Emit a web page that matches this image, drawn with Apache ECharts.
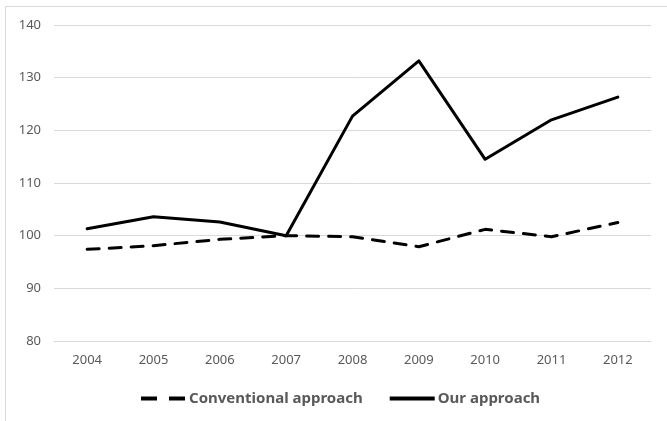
<!DOCTYPE html>
<html>
<head>
<meta charset="utf-8">
<script src="https://cdn.jsdelivr.net/npm/echarts@6/dist/echarts.min.js"></script>
<style>html,body{margin:0;padding:0;background:#fff}#c{width:667px;height:421px}</style>
</head>
<body>
<div id="c"></div>
<script>
const categories = ['2004','2005','2006','2007','2008','2009','2010','2011','2012'];
const conventional = [97.4, 98.1, 99.3, 100.0, 99.8, 97.9, 101.2, 99.8, 102.5];
const ours = [101.3, 103.6, 102.6, 100.0, 122.7, 133.2, 114.5, 122.0, 126.3];
const yTicks = [80, 140, 10];

const chart = echarts.init(document.getElementById('c'), null, {renderer: 'canvas'});
const font = 'Noto Sans';
chart.setOption({
  animation: false,
  backgroundColor: '#fff',
  graphic: [{
    type: 'rect', silent: true, z: -1,
    shape: {x: 5.5, y: 6.5, width: 800, height: 600},
    style: {fill: 'none', stroke: '#d9d9d9', lineWidth: 1}
  }],
  grid: {left: 54, right: 16, top: 25, bottom: 80},
  legend: {
    left: 134, top: 386,
    itemWidth: 45, itemHeight: 14, itemGap: 25,
    itemStyle: {opacity: 0},
    textStyle: {fontFamily: font, fontSize: 15, fontWeight: 'bold', color: '#595959', padding: [0, 0, 0, -2]},
    data: [
      {name: 'Conventional approach', lineStyle: {type: [16, 12], cap: 'butt', width: 4}},
      {name: 'Our approach', lineStyle: {cap: 'butt', width: 4}}
    ]
  },
  xAxis: {
    type: 'category', data: categories, boundaryGap: true,
    axisLine: {lineStyle: {color: '#d9d9d9', width: 1}},
    axisTick: {show: false},
    axisLabel: {fontFamily: font, fontSize: 13, color: '#595959', margin: 13}
  },
  yAxis: {
    type: 'value', min: yTicks[0], max: yTicks[1], interval: yTicks[2],
    axisLine: {show: false}, axisTick: {show: false},
    splitLine: {lineStyle: {color: '#d9d9d9', width: 1}},
    axisLabel: {fontFamily: font, fontSize: 13, color: '#595959', margin: 13}
  },
  series: [
    {
      name: 'Conventional approach', type: 'line', data: conventional,
      symbol: 'none', color: '#000',
      lineStyle: {color: '#000', width: 3, type: [12, 10], cap: 'round'}
    },
    {
      name: 'Our approach', type: 'line', data: ours,
      symbol: 'none', color: '#000',
      lineStyle: {color: '#000', width: 3, join: 'round', cap: 'round'}
    }
  ]
});
</script>
</body>
</html>
